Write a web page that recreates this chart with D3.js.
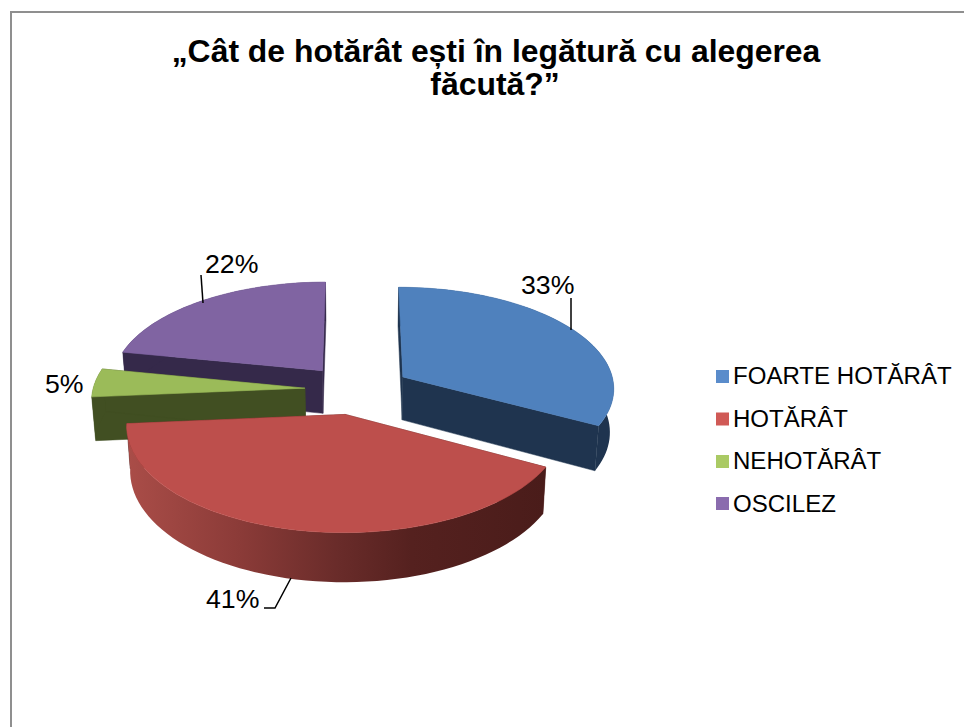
<!DOCTYPE html>
<html><head><meta charset="utf-8">
<style>html,body{margin:0;padding:0;background:#fff;overflow:hidden}svg{display:block}text{font-family:"Liberation Sans",Arial,sans-serif;fill:#000}</style>
<script src="https://cdn.jsdelivr.net/npm/d3@7"></script>
</head><body><script>
const categories=["FOARTE HOTĂRÂT","HOTĂRÂT","NEHOTĂRÂT","OSCILEZ"];
const values=[33,41,4.5,22];
const pctLabels=["33%","41%","5%","22%"];
const titleLines=["„Cât de hotărât ești în legătură cu alegerea","făcută?”"];
const topColors=["#4f81bd","#bd4f4c","#9bbb59","#8064a2"];
const wallColors=["#1f344f","#4f1e1c","#414f22","#35294a"];
const legendColors=["#5a8ccb","#d05a56","#aaca64","#8a6cae"];

const W=964,H=727,VX=356.5,VY=389.5,R=212,A=101,P=0.1,EXPLODE_Y=0.246,DEPTH=43.5,SHRINK=0.985;
const explodeX=[0.258,0.258,0.244,0.258];
const svg=d3.select("body").append("svg").attr("width",W).attr("height",H);
const defs=svg.append("defs");
const grad=defs.append("linearGradient").attr("id","redRim").attr("gradientUnits","userSpaceOnUse").attr("x1",127).attr("x2",545).attr("y1",0).attr("y2",0);
[[0,"#aa4d48"],[.27,"#8b3b38"],[.5,"#6a2c2a"],[.68,"#55211f"],[1,"#4a1c1a"]].forEach(s=>grad.append("stop").attr("offset",s[0]).attr("stop-color",s[1]));

svg.append("path").attr("d",`M11 ${H}V12H${W}`).attr("fill","none").attr("stroke","#8f8f8f").attr("stroke-width",2);

const pie=d3.pie().sort(null).value(d=>d)(values);
const line=d3.line().curve(d3.curveLinear);
function proj(x,y,low){
  const s=1/(1-P*y);
  let sx=VX+R*x*s, sy=VY+A*y*s;
  if(low){sx=VX+(sx-VX)*SHRINK; sy+=DEPTH*s;}
  return [sx,sy];
}
const order=[3,2,0,1];
order.forEach(i=>{
  const a=pie[i], mid=(a.startAngle+a.endAngle)/2;
  const dx=explodeX[i]*Math.sin(mid), dy=-EXPLODE_Y*Math.cos(mid);
  const ang=d3.range(0,61).map(k=>a.startAngle+(a.endAngle-a.startAngle)*k/60);
  const rim=ang.map(t=>[dx+Math.sin(t),dy-Math.cos(t)]);
  const g=svg.append("g");
  const wall=wallColors[i];
  const apex=[dx,dy];
  [rim[0],rim[60]].forEach(p=>{
    g.append("path").attr("d",line([proj(...apex),proj(...p),proj(...p,true),proj(...apex,true)])+"Z").attr("fill",wall).attr("stroke",wall).attr("stroke-width",.5);
  });
  const rimPts=rim.map(p=>proj(...p)).concat(rim.slice().reverse().map(p=>proj(...p,true)));
  g.append("path").attr("d",line(rimPts)+"Z").attr("fill",i===1?"url(#redRim)":wall);
  const topPts=[proj(...apex)].concat(rim.map(p=>proj(...p)));
  g.append("path").attr("d",line(topPts)+"Z").attr("fill",topColors[i]).attr("stroke",topColors[i]).attr("stroke-width",.6);
});

// title
const titleX=[496,495],titleY=[62,95];
svg.selectAll("text.title").data(titleLines).join("text").attr("class","title")
  .attr("x",(d,i)=>titleX[i]).attr("y",(d,i)=>titleY[i]).attr("text-anchor","middle")
  .attr("font-size",31.9).attr("font-weight","bold").text(d=>d);

// labels
const labelPos=[[521,294],[206,608],[45,393],[205,273]];
svg.selectAll("text.pct").data(pctLabels).join("text").attr("class","pct")
  .attr("x",(d,i)=>labelPos[i][0]).attr("y",(d,i)=>labelPos[i][1]).attr("font-size",26.7).text(d=>d);
const leaders=[[[571,298],[571,330]],[[291,578],[275,608],[264,608]],[[201,275],[203,303]]];
leaders.forEach(l=>svg.append("path").attr("d",line(l)).attr("fill","none").attr("stroke","#000").attr("stroke-width",1.5));

// legend
const legendY=[370,412.5,455,497],legendBase=[383.5,427,469,512];
categories.forEach((c,i)=>{
  svg.append("rect").attr("x",716).attr("y",legendY[i]).attr("width",13).attr("height",13).attr("fill",legendColors[i]);
  svg.append("text").attr("x",733).attr("y",legendBase[i]).attr("font-size",24.05).text(c);
});
</script></body></html>
